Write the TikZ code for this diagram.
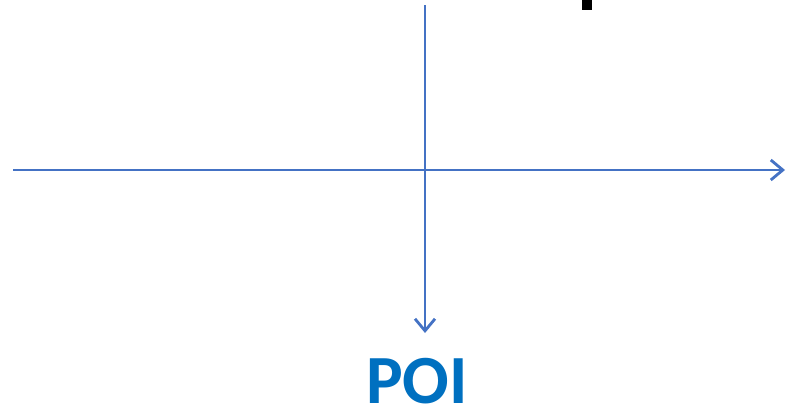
\documentclass[tikz,border=0pt]{standalone}
\usepackage{fontspec}
\setmainfont{Carlito}
\usepackage{tikz}
\usetikzlibrary{arrows.meta,positioning}

\definecolor{axisblue}{HTML}{4472C4}
\definecolor{poiblue}{HTML}{0070C0}

\begin{document}
\begin{tikzpicture}[x=1pt, y=-1pt,
    axis/.style={draw=axisblue, line width=2.8pt, -{Straight Barb[length=12pt, width=20pt, line width=2.8pt]}},
    label/.style={text=poiblue, font=\fontsize{69}{70}\selectfont\bfseries, inner sep=0pt, text depth=0pt, anchor=base}
]
    \useasboundingbox (0,0) rectangle (786,410);
    \coordinate (west) at (13,170);
    \coordinate (east) at (785,170);
    \coordinate (north) at (425,5);
    \coordinate (south) at (425,333);
    \node[label] (poi) at (417,403) {POI};

    \draw[axis] (west) -- (east);
    \draw[axis] (north) -- (south);
    \fill[black] (582,0) rectangle (592,10);
\end{tikzpicture}
\end{document}
